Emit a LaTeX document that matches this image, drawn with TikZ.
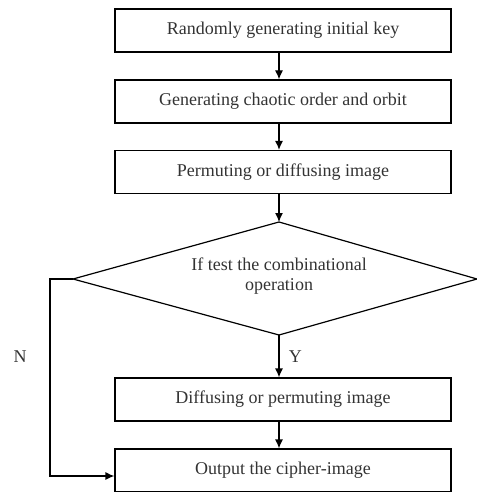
\documentclass[tikz,border=0pt]{standalone}
\usepackage{fontspec}
\setmainfont{Liberation Serif}
\usetikzlibrary{arrows.meta}
\begin{document}
\begin{tikzpicture}[x=1pt,y=-1pt,
  stepbox/.style={draw,line width=1.2pt,minimum width=336pt,minimum height=43pt,inner sep=0pt},
  conn/.style={line width=1.2pt,-{Latex[length=9pt,width=8pt]}},
  every node/.style={font=\fontsize{18}{20}\selectfont,text=black!80}]
\useasboundingbox (0,0) rectangle (476,492);
\node[stepbox] (b1) at (283,30.5) {Randomly generating initial key};
\node[stepbox] (b2) at (283,101.5) {Generating chaotic order and orbit};
\node[stepbox] (b3) at (283,172) {Permuting or diffusing image};
\coordinate (dt) at (279,222);
\coordinate (dr) at (477,279);
\coordinate (db) at (279,335);
\coordinate (dl) at (73,279);
\draw[line width=1.2pt] (dt) -- (dr) -- (db) -- (dl) -- cycle;
\node[align=center] (dtext) at (279,276) {If test the combinational\\operation};
\node[stepbox] (b4) at (283,399.5) {Diffusing or permuting image};
\node[stepbox] (b5) at (283,470.5) {Output the cipher-image};
\draw[conn] (b1.south -| dt) -- (b2.north -| dt);
\draw[conn] (b2.south -| dt) -- (b3.north -| dt);
\draw[conn] (b3.south -| dt) -- (dt);
\draw[conn] (db) -- node[right=6pt] (ylab) {Y} (b4.north -| db);
\draw[conn] (b4.south -| db) -- (b5.north -| db);
\coordinate (nc) at (50,279);
\draw[conn] (dl) -- (nc) |- (b5.west |- 0,476);
\node (nlab) at (20,357) {N};
\end{tikzpicture}
\end{document}
